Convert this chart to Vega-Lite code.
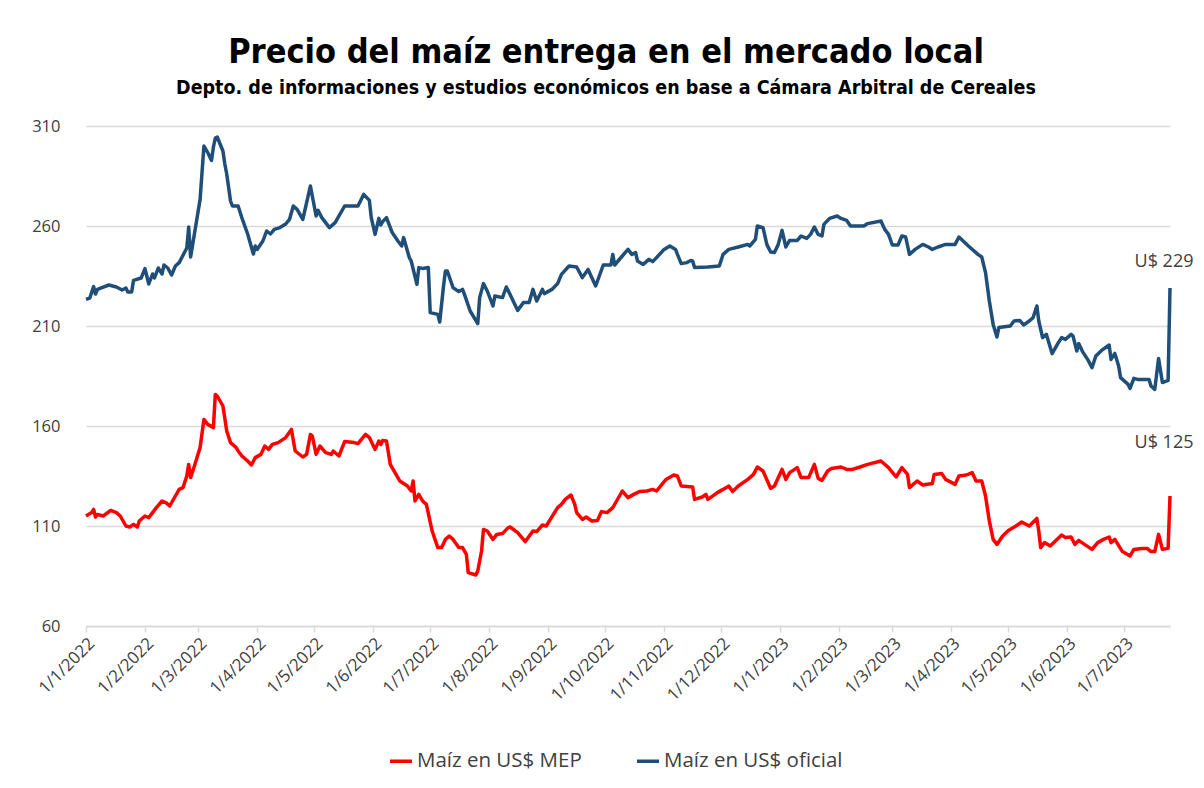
{
  "$schema": "https://vega.github.io/schema/vega-lite/v6.json",
  "width": 1084,
  "height": 500,
  "autosize": {"type": "none"},
  "padding": {"left": 86, "top": 126, "right": 34, "bottom": 162},
  "background": "white",
  "title": {
    "text": "Precio del maíz entrega en el mercado local",
    "subtitle": "Depto. de informaciones y estudios económicos en base a Cámara Arbitral  de Cereales",
    "font": "'DejaVu Sans Condensed', 'DejaVu Sans', sans-serif",
    "fontSize": 34,
    "fontWeight": "bold",
    "color": "#000000",
    "subtitleFont": "'DejaVu Sans Condensed', 'DejaVu Sans', sans-serif",
    "subtitleFontSize": 19.5,
    "subtitleFontWeight": "bold",
    "subtitleColor": "#000000",
    "subtitlePadding": 9,
    "anchor": "middle",
    "frame": "group",
    "dx": -22,
    "offset": 21
  },
  "datasets": {
    "oficial": [
      {"fecha":"2022-01-01","precio":223.3},{"fecha":"2022-01-03","precio":224},{"fecha":"2022-01-05","precio":229.7},{"fecha":"2022-01-06","precio":226},{"fecha":"2022-01-07","precio":228.3},{"fecha":"2022-01-13","precio":230.5},{"fecha":"2022-01-17","precio":229.5},{"fecha":"2022-01-20","precio":228},{"fecha":"2022-01-22","precio":229},{"fecha":"2022-01-23","precio":227},{"fecha":"2022-01-25","precio":227},{"fecha":"2022-01-26","precio":232.8},{"fecha":"2022-01-30","precio":234},
      {"fecha":"2022-02-01","precio":238.7},{"fecha":"2022-02-03","precio":231},{"fecha":"2022-02-05","precio":236},{"fecha":"2022-02-06","precio":234},{"fecha":"2022-02-08","precio":239},{"fecha":"2022-02-10","precio":236},{"fecha":"2022-02-11","precio":240.5},{"fecha":"2022-02-13","precio":239},{"fecha":"2022-02-15","precio":235.5},{"fecha":"2022-02-17","precio":240},{"fecha":"2022-02-19","precio":241.7},{"fecha":"2022-02-23","precio":249},{"fecha":"2022-02-24","precio":259.5},{"fecha":"2022-02-25","precio":244.5},{"fecha":"2022-02-27","precio":256},
      {"fecha":"2022-03-02","precio":273.3},{"fecha":"2022-03-04","precio":300},{"fecha":"2022-03-06","precio":296.7},{"fecha":"2022-03-08","precio":292.8},{"fecha":"2022-03-09","precio":299.5},{"fecha":"2022-03-10","precio":304},{"fecha":"2022-03-11","precio":304.5},{"fecha":"2022-03-14","precio":297.5},{"fecha":"2022-03-15","precio":291},{"fecha":"2022-03-16","precio":286},{"fecha":"2022-03-18","precio":272.5},{"fecha":"2022-03-19","precio":270},{"fecha":"2022-03-22","precio":270},{"fecha":"2022-03-24","precio":264},{"fecha":"2022-03-27","precio":256},{"fecha":"2022-03-30","precio":246},{"fecha":"2022-03-31","precio":250},
      {"fecha":"2022-04-01","precio":248.3},{"fecha":"2022-04-04","precio":252.5},{"fecha":"2022-04-06","precio":257.5},{"fecha":"2022-04-08","precio":256},{"fecha":"2022-04-10","precio":258.3},{"fecha":"2022-04-13","precio":259.2},{"fecha":"2022-04-16","precio":261},{"fecha":"2022-04-18","precio":263.3},{"fecha":"2022-04-20","precio":270},{"fecha":"2022-04-22","precio":268.3},{"fecha":"2022-04-25","precio":263.3},{"fecha":"2022-04-29","precio":280},
      {"fecha":"2022-05-02","precio":265},{"fecha":"2022-05-03","precio":267.8},{"fecha":"2022-05-05","precio":264.2},{"fecha":"2022-05-09","precio":259.2},{"fecha":"2022-05-12","precio":261.7},{"fecha":"2022-05-17","precio":270},{"fecha":"2022-05-24","precio":270},{"fecha":"2022-05-27","precio":275.8},{"fecha":"2022-05-30","precio":272.8},{"fecha":"2022-05-31","precio":264.2},
      {"fecha":"2022-06-02","precio":255.8},{"fecha":"2022-06-04","precio":263.8},{"fecha":"2022-06-05","precio":260.5},{"fecha":"2022-06-06","precio":262.2},{"fecha":"2022-06-08","precio":264.2},{"fecha":"2022-06-11","precio":256.7},{"fecha":"2022-06-14","precio":252.5},{"fecha":"2022-06-16","precio":250},{"fecha":"2022-06-17","precio":254.2},{"fecha":"2022-06-20","precio":244.2},{"fecha":"2022-06-21","precio":242.5},{"fecha":"2022-06-24","precio":230.8},{"fecha":"2022-06-25","precio":239.2},{"fecha":"2022-06-27","precio":238.8},{"fecha":"2022-06-30","precio":239.2},
      {"fecha":"2022-07-01","precio":216.7},{"fecha":"2022-07-05","precio":215.8},{"fecha":"2022-07-06","precio":212},{"fecha":"2022-07-08","precio":230},{"fecha":"2022-07-09","precio":237.5},{"fecha":"2022-07-10","precio":237.5},{"fecha":"2022-07-13","precio":229.2},{"fecha":"2022-07-16","precio":227.2},{"fecha":"2022-07-18","precio":228.3},{"fecha":"2022-07-19","precio":225.8},{"fecha":"2022-07-22","precio":217.5},{"fecha":"2022-07-26","precio":211.2},{"fecha":"2022-07-27","precio":224.2},{"fecha":"2022-07-29","precio":231.2},{"fecha":"2022-07-31","precio":227.5},
      {"fecha":"2022-08-03","precio":220},{"fecha":"2022-08-04","precio":225},{"fecha":"2022-08-08","precio":224.2},{"fecha":"2022-08-10","precio":229.5},{"fecha":"2022-08-12","precio":225.8},{"fecha":"2022-08-16","precio":217.8},{"fecha":"2022-08-19","precio":221.7},{"fecha":"2022-08-22","precio":221.7},{"fecha":"2022-08-24","precio":228.3},{"fecha":"2022-08-26","precio":222.5},{"fecha":"2022-08-29","precio":228.3},{"fecha":"2022-08-30","precio":226.2},
      {"fecha":"2022-09-03","precio":228.3},{"fecha":"2022-09-06","precio":231.2},{"fecha":"2022-09-08","precio":235.8},{"fecha":"2022-09-12","precio":240},{"fecha":"2022-09-16","precio":239.5},{"fecha":"2022-09-19","precio":234.2},{"fecha":"2022-09-22","precio":238.3},{"fecha":"2022-09-26","precio":230},{"fecha":"2022-09-30","precio":240.5},
      {"fecha":"2022-10-04","precio":240.5},{"fecha":"2022-10-05","precio":245.8},{"fecha":"2022-10-06","precio":240.5},{"fecha":"2022-10-10","precio":245},{"fecha":"2022-10-13","precio":248.3},{"fecha":"2022-10-15","precio":245.8},{"fecha":"2022-10-17","precio":246.7},{"fecha":"2022-10-18","precio":242.5},{"fecha":"2022-10-21","precio":240.8},{"fecha":"2022-10-24","precio":243.3},{"fecha":"2022-10-26","precio":242.2},{"fecha":"2022-10-28","precio":244.2},
      {"fecha":"2022-11-01","precio":248.3},{"fecha":"2022-11-04","precio":250},{"fecha":"2022-11-07","precio":248.3},{"fecha":"2022-11-08","precio":245.8},{"fecha":"2022-11-10","precio":241.2},{"fecha":"2022-11-13","precio":241.7},{"fecha":"2022-11-15","precio":242.8},{"fecha":"2022-11-16","precio":242.5},{"fecha":"2022-11-17","precio":239.2},{"fecha":"2022-11-24","precio":239.5},{"fecha":"2022-11-30","precio":240},
      {"fecha":"2022-12-02","precio":245.8},{"fecha":"2022-12-05","precio":248.3},{"fecha":"2022-12-10","precio":249.5},{"fecha":"2022-12-15","precio":250.8},{"fecha":"2022-12-16","precio":250},{"fecha":"2022-12-19","precio":253.3},{"fecha":"2022-12-20","precio":260},{"fecha":"2022-12-23","precio":259.2},{"fecha":"2022-12-25","precio":250.8},{"fecha":"2022-12-27","precio":247},{"fecha":"2022-12-29","precio":246.7},{"fecha":"2022-12-31","precio":250.8},
      {"fecha":"2023-01-02","precio":257.8},{"fecha":"2023-01-04","precio":249.5},{"fecha":"2023-01-06","precio":252.8},{"fecha":"2023-01-10","precio":252.8},{"fecha":"2023-01-12","precio":255},{"fecha":"2023-01-15","precio":253.8},{"fecha":"2023-01-17","precio":255.8},{"fecha":"2023-01-19","precio":259.5},{"fecha":"2023-01-21","precio":255.8},{"fecha":"2023-01-23","precio":255},{"fecha":"2023-01-24","precio":260.8},{"fecha":"2023-01-27","precio":263.8},{"fecha":"2023-01-31","precio":265},
      {"fecha":"2023-02-02","precio":263.8},{"fecha":"2023-02-05","precio":262.8},{"fecha":"2023-02-07","precio":260},{"fecha":"2023-02-14","precio":260},{"fecha":"2023-02-16","precio":261.2},{"fecha":"2023-02-23","precio":262.5},{"fecha":"2023-02-25","precio":258.3},{"fecha":"2023-02-27","precio":255.8},
      {"fecha":"2023-03-01","precio":250.5},{"fecha":"2023-03-04","precio":250.5},{"fecha":"2023-03-06","precio":255},{"fecha":"2023-03-08","precio":254.5},{"fecha":"2023-03-10","precio":245.8},{"fecha":"2023-03-13","precio":248.3},{"fecha":"2023-03-17","precio":250.8},{"fecha":"2023-03-20","precio":249.5},{"fecha":"2023-03-22","precio":248.3},{"fecha":"2023-03-25","precio":249.5},{"fecha":"2023-03-29","precio":250.8},
      {"fecha":"2023-04-03","precio":250.8},{"fecha":"2023-04-05","precio":254.5},{"fecha":"2023-04-10","precio":250},{"fecha":"2023-04-15","precio":245.8},{"fecha":"2023-04-17","precio":244.5},{"fecha":"2023-04-19","precio":236.7},{"fecha":"2023-04-21","precio":222.5},{"fecha":"2023-04-23","precio":210.8},{"fecha":"2023-04-25","precio":204.5},{"fecha":"2023-04-26","precio":209.2},
      {"fecha":"2023-05-02","precio":210},{"fecha":"2023-05-04","precio":212.5},{"fecha":"2023-05-07","precio":212.8},{"fecha":"2023-05-09","precio":210.5},{"fecha":"2023-05-12","precio":212.5},{"fecha":"2023-05-14","precio":214.2},{"fecha":"2023-05-16","precio":220},{"fecha":"2023-05-17","precio":212.5},{"fecha":"2023-05-19","precio":204.2},{"fecha":"2023-05-21","precio":205.8},{"fecha":"2023-05-24","precio":196.2},{"fecha":"2023-05-27","precio":201.2},{"fecha":"2023-05-29","precio":204.2},{"fecha":"2023-05-31","precio":203.3},
      {"fecha":"2023-06-03","precio":205.8},{"fecha":"2023-06-04","precio":205},{"fecha":"2023-06-06","precio":197.5},{"fecha":"2023-06-07","precio":201.2},{"fecha":"2023-06-09","precio":197.2},{"fecha":"2023-06-12","precio":192.8},{"fecha":"2023-06-14","precio":189.2},{"fecha":"2023-06-16","precio":195},{"fecha":"2023-06-19","precio":197.8},{"fecha":"2023-06-23","precio":200.5},{"fecha":"2023-06-24","precio":193.3},{"fecha":"2023-06-26","precio":196.3},{"fecha":"2023-06-28","precio":190},{"fecha":"2023-06-29","precio":184.2},
      {"fecha":"2023-07-03","precio":180.8},{"fecha":"2023-07-04","precio":178.8},{"fecha":"2023-07-06","precio":183.8},{"fecha":"2023-07-08","precio":183.3},{"fecha":"2023-07-12","precio":183.3},{"fecha":"2023-07-14","precio":183.3},{"fecha":"2023-07-15","precio":180},{"fecha":"2023-07-17","precio":178.3},{"fecha":"2023-07-19","precio":193.8},{"fecha":"2023-07-21","precio":181.7},{"fecha":"2023-07-24","precio":182.8},{"fecha":"2023-07-25","precio":229}
    ],
    "mep": [
      {"fecha":"2022-01-01","precio":115},{"fecha":"2022-01-04","precio":116.7},{"fecha":"2022-01-05","precio":118.3},{"fecha":"2022-01-06","precio":114.5},{"fecha":"2022-01-07","precio":115.8},{"fecha":"2022-01-10","precio":115},{"fecha":"2022-01-14","precio":117.8},{"fecha":"2022-01-17","precio":116.7},{"fecha":"2022-01-19","precio":115},{"fecha":"2022-01-22","precio":110},{"fecha":"2022-01-24","precio":109.5},{"fecha":"2022-01-26","precio":110.8},{"fecha":"2022-01-28","precio":109.5},{"fecha":"2022-01-29","precio":112.5},
      {"fecha":"2022-02-01","precio":115},{"fecha":"2022-02-03","precio":114.2},{"fecha":"2022-02-05","precio":116.7},{"fecha":"2022-02-07","precio":119.2},{"fecha":"2022-02-10","precio":122.5},{"fecha":"2022-02-12","precio":121.7},{"fecha":"2022-02-14","precio":120},{"fecha":"2022-02-17","precio":125},{"fecha":"2022-02-19","precio":128.3},{"fecha":"2022-02-21","precio":129.2},{"fecha":"2022-02-23","precio":135},{"fecha":"2022-02-24","precio":140.8},{"fecha":"2022-02-25","precio":134.2},{"fecha":"2022-02-27","precio":140},
      {"fecha":"2022-03-02","precio":149.2},{"fecha":"2022-03-04","precio":163.3},{"fecha":"2022-03-06","precio":160.8},{"fecha":"2022-03-09","precio":159.2},{"fecha":"2022-03-10","precio":175.8},{"fecha":"2022-03-11","precio":175},{"fecha":"2022-03-14","precio":170},{"fecha":"2022-03-16","precio":157.5},{"fecha":"2022-03-18","precio":151.7},{"fecha":"2022-03-21","precio":149.2},{"fecha":"2022-03-22","precio":147.5},{"fecha":"2022-03-24","precio":145},{"fecha":"2022-03-27","precio":142.5},{"fecha":"2022-03-29","precio":140.5},{"fecha":"2022-03-31","precio":144.2},
      {"fecha":"2022-04-03","precio":145.8},{"fecha":"2022-04-05","precio":150},{"fecha":"2022-04-07","precio":148.3},{"fecha":"2022-04-09","precio":150.8},{"fecha":"2022-04-12","precio":151.7},{"fecha":"2022-04-16","precio":154.2},{"fecha":"2022-04-19","precio":158.3},{"fecha":"2022-04-21","precio":147.5},{"fecha":"2022-04-25","precio":144.5},{"fecha":"2022-04-27","precio":145.8},{"fecha":"2022-04-29","precio":155.8},{"fecha":"2022-04-30","precio":155},
      {"fecha":"2022-05-02","precio":145.8},{"fecha":"2022-05-04","precio":150},{"fecha":"2022-05-07","precio":146.7},{"fecha":"2022-05-10","precio":145.8},{"fecha":"2022-05-11","precio":147.5},{"fecha":"2022-05-14","precio":145},{"fecha":"2022-05-17","precio":152.2},{"fecha":"2022-05-22","precio":151.7},{"fecha":"2022-05-24","precio":151.2},{"fecha":"2022-05-28","precio":155.8},{"fecha":"2022-05-30","precio":154.2},
      {"fecha":"2022-06-02","precio":148.3},{"fecha":"2022-06-04","precio":152.5},{"fecha":"2022-06-05","precio":150.8},{"fecha":"2022-06-06","precio":152.8},{"fecha":"2022-06-08","precio":152.5},{"fecha":"2022-06-10","precio":140.8},{"fecha":"2022-06-13","precio":135.8},{"fecha":"2022-06-15","precio":132.5},{"fecha":"2022-06-19","precio":130},{"fecha":"2022-06-21","precio":127.5},{"fecha":"2022-06-22","precio":132.5},{"fecha":"2022-06-23","precio":122.5},{"fecha":"2022-06-25","precio":125.8},{"fecha":"2022-06-27","precio":122.5},{"fecha":"2022-06-29","precio":120.8},
      {"fecha":"2022-07-02","precio":107.5},{"fecha":"2022-07-05","precio":99.2},{"fecha":"2022-07-07","precio":99.2},{"fecha":"2022-07-09","precio":103.3},{"fecha":"2022-07-11","precio":105},{"fecha":"2022-07-13","precio":103.3},{"fecha":"2022-07-16","precio":99.2},{"fecha":"2022-07-18","precio":99.2},{"fecha":"2022-07-20","precio":95.8},{"fecha":"2022-07-21","precio":86.7},{"fecha":"2022-07-25","precio":85.5},{"fecha":"2022-07-26","precio":87.5},{"fecha":"2022-07-28","precio":97.5},{"fecha":"2022-07-29","precio":108.3},{"fecha":"2022-07-31","precio":107.5},
      {"fecha":"2022-08-03","precio":103.3},{"fecha":"2022-08-05","precio":105.8},{"fecha":"2022-08-08","precio":106.2},{"fecha":"2022-08-11","precio":109.2},{"fecha":"2022-08-12","precio":109.5},{"fecha":"2022-08-16","precio":106.7},{"fecha":"2022-08-20","precio":102.2},{"fecha":"2022-08-24","precio":107.5},{"fecha":"2022-08-26","precio":107.2},{"fecha":"2022-08-29","precio":110.5},{"fecha":"2022-08-31","precio":110},
      {"fecha":"2022-09-06","precio":119.2},{"fecha":"2022-09-08","precio":120.8},{"fecha":"2022-09-10","precio":123.3},{"fecha":"2022-09-13","precio":125.5},{"fecha":"2022-09-15","precio":120.8},{"fecha":"2022-09-16","precio":116.7},{"fecha":"2022-09-19","precio":113.3},{"fecha":"2022-09-21","precio":114.5},{"fecha":"2022-09-24","precio":112.5},{"fecha":"2022-09-27","precio":112.8},{"fecha":"2022-09-29","precio":117.2},
      {"fecha":"2022-10-02","precio":116.7},{"fecha":"2022-10-05","precio":119.2},{"fecha":"2022-10-07","precio":122.5},{"fecha":"2022-10-10","precio":127.5},{"fecha":"2022-10-13","precio":124.2},{"fecha":"2022-10-16","precio":125.8},{"fecha":"2022-10-19","precio":127.2},{"fecha":"2022-10-23","precio":127.5},{"fecha":"2022-10-26","precio":128.3},{"fecha":"2022-10-28","precio":127.5},
      {"fecha":"2022-11-02","precio":133.3},{"fecha":"2022-11-06","precio":135.5},{"fecha":"2022-11-08","precio":135},{"fecha":"2022-11-10","precio":130},{"fecha":"2022-11-16","precio":129.5},{"fecha":"2022-11-17","precio":123.3},{"fecha":"2022-11-21","precio":124.5},{"fecha":"2022-11-23","precio":125.8},{"fecha":"2022-11-24","precio":123.3},{"fecha":"2022-11-29","precio":126.7},
      {"fecha":"2022-12-02","precio":128.3},{"fecha":"2022-12-05","precio":130},{"fecha":"2022-12-07","precio":127.2},{"fecha":"2022-12-10","precio":130},{"fecha":"2022-12-15","precio":133.3},{"fecha":"2022-12-18","precio":135.8},{"fecha":"2022-12-20","precio":139.5},{"fecha":"2022-12-23","precio":137.5},{"fecha":"2022-12-27","precio":128.8},{"fecha":"2022-12-29","precio":130},
      {"fecha":"2023-01-02","precio":138.3},{"fecha":"2023-01-04","precio":133.3},{"fecha":"2023-01-06","precio":136.7},{"fecha":"2023-01-10","precio":139.2},{"fecha":"2023-01-12","precio":134.2},{"fecha":"2023-01-16","precio":134.2},{"fecha":"2023-01-19","precio":140.8},{"fecha":"2023-01-21","precio":133.8},{"fecha":"2023-01-23","precio":132.8},{"fecha":"2023-01-26","precio":137.5},{"fecha":"2023-01-28","precio":138.8},
      {"fecha":"2023-02-02","precio":139.5},{"fecha":"2023-02-05","precio":138.3},{"fecha":"2023-02-08","precio":138.3},{"fecha":"2023-02-12","precio":139.5},{"fecha":"2023-02-16","precio":140.8},{"fecha":"2023-02-23","precio":142.5},{"fecha":"2023-02-27","precio":139.2},
      {"fecha":"2023-03-03","precio":134.5},{"fecha":"2023-03-06","precio":139.2},{"fecha":"2023-03-09","precio":135.8},{"fecha":"2023-03-10","precio":129.2},{"fecha":"2023-03-14","precio":132.5},{"fecha":"2023-03-17","precio":130.5},{"fecha":"2023-03-22","precio":131.2},{"fecha":"2023-03-23","precio":135.8},{"fecha":"2023-03-27","precio":136.2},{"fecha":"2023-03-29","precio":133.3},
      {"fecha":"2023-04-03","precio":130.8},{"fecha":"2023-04-05","precio":135},{"fecha":"2023-04-09","precio":135.5},{"fecha":"2023-04-12","precio":136.7},{"fecha":"2023-04-14","precio":132.5},{"fecha":"2023-04-17","precio":132.5},{"fecha":"2023-04-19","precio":125},{"fecha":"2023-04-21","precio":112.5},{"fecha":"2023-04-23","precio":103.3},{"fecha":"2023-04-25","precio":100.8},{"fecha":"2023-04-28","precio":105},
      {"fecha":"2023-05-01","precio":107.8},{"fecha":"2023-05-05","precio":110},{"fecha":"2023-05-08","precio":112},{"fecha":"2023-05-12","precio":110},{"fecha":"2023-05-16","precio":113.8},{"fecha":"2023-05-17","precio":107.5},{"fecha":"2023-05-18","precio":99.2},{"fecha":"2023-05-20","precio":101.7},{"fecha":"2023-05-23","precio":100},{"fecha":"2023-05-26","precio":102.8},{"fecha":"2023-05-29","precio":105.5},{"fecha":"2023-05-31","precio":104.2},
      {"fecha":"2023-06-03","precio":104.5},{"fecha":"2023-06-05","precio":100.8},{"fecha":"2023-06-07","precio":102.8},{"fecha":"2023-06-10","precio":100.8},{"fecha":"2023-06-14","precio":98.3},{"fecha":"2023-06-17","precio":101.7},{"fecha":"2023-06-20","precio":103.3},{"fecha":"2023-06-23","precio":104.5},{"fecha":"2023-06-24","precio":101.7},{"fecha":"2023-06-26","precio":103.3},{"fecha":"2023-06-30","precio":97.2},
      {"fecha":"2023-07-04","precio":95},{"fecha":"2023-07-06","precio":98.3},{"fecha":"2023-07-10","precio":98.8},{"fecha":"2023-07-13","precio":98.8},{"fecha":"2023-07-15","precio":97.2},{"fecha":"2023-07-17","precio":97.2},{"fecha":"2023-07-19","precio":105.8},{"fecha":"2023-07-21","precio":98.3},{"fecha":"2023-07-24","precio":98.8},{"fecha":"2023-07-25","precio":125}
    ]
  },
  "encoding": {
    "x": {
      "field": "fecha",
      "type": "temporal",
      "scale": {"type": "utc", "domain": [{"year": 2022, "month": 1, "date": 1, "utc": true}, {"year": 2023, "month": 7, "date": 25, "utc": true}]},
      "axis": {
        "title": null,
        "tickCount": {"interval": "month", "step": 1},
        "format": "%-d/%-m/%Y",
        "labelAngle": -45,
        "labelFont": "Open Sans",
        "labelFontSize": 17,
        "labelColor": "#404040",
        "labelPadding": 3,
        "labelOverlap": false,
        "labelFlush": false,
        "grid": false,
        "domain": true,
        "domainColor": "#d9d9d9",
        "domainWidth": 1.5,
        "ticks": true,
        "tickColor": "#d9d9d9",
        "tickWidth": 1.5,
        "tickSize": 6
      }
    },
    "y": {
      "field": "precio",
      "type": "quantitative",
      "scale": {"domain": [60, 310], "nice": false, "zero": false},
      "axis": {
        "title": null,
        "values": [60, 110, 160, 210, 260, 310],
        "labelFont": "Open Sans",
        "labelFontSize": 16.5,
        "labelColor": "#404040",
        "labelPadding": 26,
        "domain": false,
        "ticks": false,
        "grid": true,
        "gridColor": "#d9d9d9",
        "gridWidth": 1.5
      }
    }
  },
  "layer": [
    {
      "data": {"name": "mep"},
      "mark": {"type": "line", "strokeWidth": 3.5, "strokeJoin": "round"},
      "encoding": {"color": {"datum": "Maíz en US$ MEP"}}
    },
    {
      "data": {"name": "oficial"},
      "mark": {"type": "line", "strokeWidth": 3.5, "strokeJoin": "round"},
      "encoding": {"color": {"datum": "Maíz en US$ oficial"}}
    },
    {
      "data": {"values": [{"fecha": "2023-07-25", "precio": 229, "etiqueta": "U$ 229"}]},
      "mark": {"type": "text", "font": "Open Sans", "fontSize": 18, "color": "#404040", "align": "center", "baseline": "middle", "dx": -6, "dy": -26},
      "encoding": {"text": {"field": "etiqueta"}}
    },
    {
      "data": {"values": [{"fecha": "2023-07-25", "precio": 125, "etiqueta": "U$ 125"}]},
      "mark": {"type": "text", "font": "Open Sans", "fontSize": 18, "color": "#404040", "align": "center", "baseline": "middle", "dx": -6, "dy": -53},
      "encoding": {"text": {"field": "etiqueta"}}
    }
  ],
  "config": {
    "view": {"stroke": null},
    "range": {"category": ["#ff0000", "#1f4e79"]},
    "legend": {
      "orient": "none",
      "legendX": 302,
      "legendY": 622,
      "direction": "horizontal",
      "title": null,
      "symbolType": "stroke",
      "symbolSize": 484,
      "symbolStrokeWidth": 3.5,
      "labelFont": "Open Sans",
      "labelFontSize": 20.5,
      "labelLimit": 400,
      "labelColor": "#404040",
      "labelOffset": 3,
      "columnPadding": 48
    }
  }
}
